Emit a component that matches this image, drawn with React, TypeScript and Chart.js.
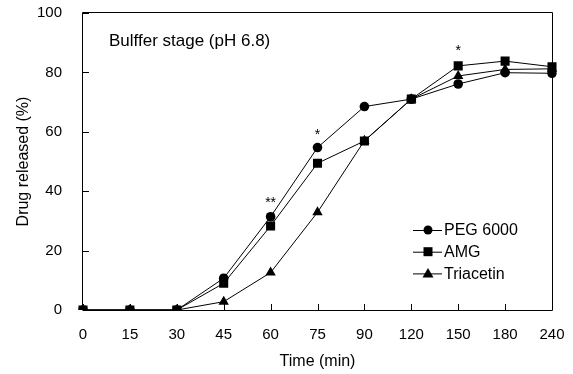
import React, { useEffect, useRef } from "react";
import { Chart, registerables } from "chart.js";

Chart.register(...registerables);

const timeLabels = ["0", "15", "30", "45", "60", "75", "90", "120", "150", "180", "240"];
const peg6000 = [0, 0, 0, 10.7, 31.4, 54.7, 68.5, 71, 76.1, 79.9, 79.7];
const amg = [0, 0, 0, 9.0, 28.3, 49.4, 56.9, 71, 82.2, 83.8, 81.9];
const triacetin = [0, 0, 0, 2.8, 12.6, 32.9, 57, 71, 78.8, 81, 81.2];
const seriesNames = ["PEG 6000", "AMG", "Triacetin"];
const yMin = 0;
const yMax = 100;
const yStep = 20;
const sigLabels = ["60", "75", "150"];
const sigTexts = ["**", "*", "*"];
const sigValues = [37, 60, 88];
const stageText = "Bulffer stage (pH 6.8)";

const FONT = "'Liberation Sans', Arial, sans-serif";

const decorPlugin = {
  id: "decor",
  afterDatasetsDraw(chart: any) {
    const { ctx, chartArea } = chart;
    const { left, right, top, bottom } = chartArea;
    const xs = chart.scales.x;
    const ys = chart.scales.y;
    ctx.save();
    ctx.strokeStyle = "#000";
    ctx.lineWidth = 1;
    // box
    ctx.beginPath();
    ctx.moveTo(left, bottom + 0.5);
    ctx.lineTo(right + 0.5, bottom + 0.5);
    ctx.lineTo(right + 0.5, top - 0.5);
    ctx.lineTo(left - 0.5, top - 0.5);
    ctx.lineTo(left - 0.5, bottom + 0.5);
    ctx.stroke();
    // inward ticks
    ctx.beginPath();
    for (let i = 0; i < timeLabels.length; i++) {
      const x = Math.round(xs.getPixelForValue(i)) + 0.5;
      ctx.moveTo(x, bottom);
      ctx.lineTo(x, bottom - 6);
    }
    for (let v = yMin; v <= yMax; v += yStep) {
      const y = Math.round(ys.getPixelForValue(v)) + 0.5;
      ctx.moveTo(left, y);
      ctx.lineTo(left + 6, y);
    }
    ctx.stroke();

    ctx.fillStyle = "#000";
    // stage text
    ctx.font = `17px ${FONT}`;
    ctx.textAlign = "left";
    ctx.textBaseline = "middle";
    ctx.fillText(stageText, left + 26, top + 28);

    // significance marks
    ctx.font = `14px ${FONT}`;
    ctx.textAlign = "center";
    ctx.textBaseline = "middle";
    for (let i = 0; i < sigLabels.length; i++) {
      const idx = timeLabels.indexOf(sigLabels[i]);
      const x = xs.getPixelForValue(idx);
      const y = ys.getPixelForValue(sigValues[i]);
      ctx.fillText(sigTexts[i], x, y + 3);
    }

    // legend
    const styles = ["circle", "rect", "triangle"];
    const lx = 413;
    const ly = 230;
    const rowH = 21.7;
    ctx.font = `16px ${FONT}`;
    ctx.textAlign = "left";
    ctx.textBaseline = "middle";
    for (let i = 0; i < seriesNames.length; i++) {
      const y = ly + i * rowH;
      ctx.beginPath();
      ctx.moveTo(lx, y + 0.5);
      ctx.lineTo(lx + 29, y + 0.5);
      ctx.stroke();
      const cx = lx + 15;
      ctx.beginPath();
      if (styles[i] === "circle") {
        ctx.arc(cx, y, 4.5, 0, Math.PI * 2);
      } else if (styles[i] === "rect") {
        ctx.rect(cx - 4.5, y - 4.5, 9, 9);
      } else {
        ctx.moveTo(cx, y - 5.5);
        ctx.lineTo(cx + 5.5, y + 4);
        ctx.lineTo(cx - 5.5, y + 4);
        ctx.closePath();
      }
      ctx.fill();
      ctx.fillText(seriesNames[i], lx + 31, y + 1);
    }
    ctx.restore();
  },
};

export default function App() {
  const canvasRef = useRef<HTMLCanvasElement | null>(null);

  useEffect(() => {
    const canvas = canvasRef.current;
    if (!canvas) return;
    const common = {
      borderColor: "#000",
      backgroundColor: "#000",
      pointBackgroundColor: "#000",
      pointBorderColor: "#000",
      borderWidth: 1,
      pointBorderWidth: 0,
      tension: 0,
    };
    const chart = new Chart(canvas, {
      type: "line",
      data: {
        labels: timeLabels,
        datasets: [
          { ...common, label: seriesNames[0], data: peg6000, pointStyle: "circle", pointRadius: 4.8 },
          { ...common, label: seriesNames[1], data: amg, pointStyle: "rect", pointRadius: 6.4 },
          { ...common, label: seriesNames[2], data: triacetin, pointStyle: "triangle", pointRadius: 6 },
        ],
      },
      options: {
        animation: false,
        responsive: false,
        maintainAspectRatio: false,
        events: [],
        layout: { padding: { top: 13, right: 21, left: 0, bottom: 0 } },
        plugins: { legend: { display: false }, tooltip: { enabled: false } },
        scales: {
          x: {
            type: "category",
            offset: false,
            grid: { display: false },
            border: { display: false },
            ticks: { color: "#000", font: { family: FONT, size: 15 }, padding: 8, maxRotation: 0, autoSkip: false },
            title: { display: true, text: "Time (min)", color: "#000", font: { family: FONT, size: 16 }, padding: { bottom: 3, top: 0 } },
            afterFit: (s: any) => { s.height = 64; s.paddingLeft = 0; s.paddingRight = 0; },
          },
          y: {
            min: yMin,
            max: yMax,
            grid: { display: false },
            border: { display: false },
            ticks: { stepSize: yStep, color: "#000", font: { family: FONT, size: 15 }, padding: 13 },
            title: { display: true, text: "Drug released (%)", color: "#000", font: { family: FONT, size: 16 }, padding: { top: 14, bottom: 0 } },
            afterFit: (s: any) => { s.width = 83; s.paddingTop = 0; s.paddingBottom = 0; },
          },
        },
      },
      plugins: [decorPlugin],
    } as any);
    return () => chart.destroy();
  }, []);

  return (
    <div style={{ position: "absolute", left: 0, top: 0, width: 573, height: 374, background: "#fff" }}>
      <canvas ref={canvasRef} width={573} height={374} style={{ display: "block" }} />
    </div>
  );
}
